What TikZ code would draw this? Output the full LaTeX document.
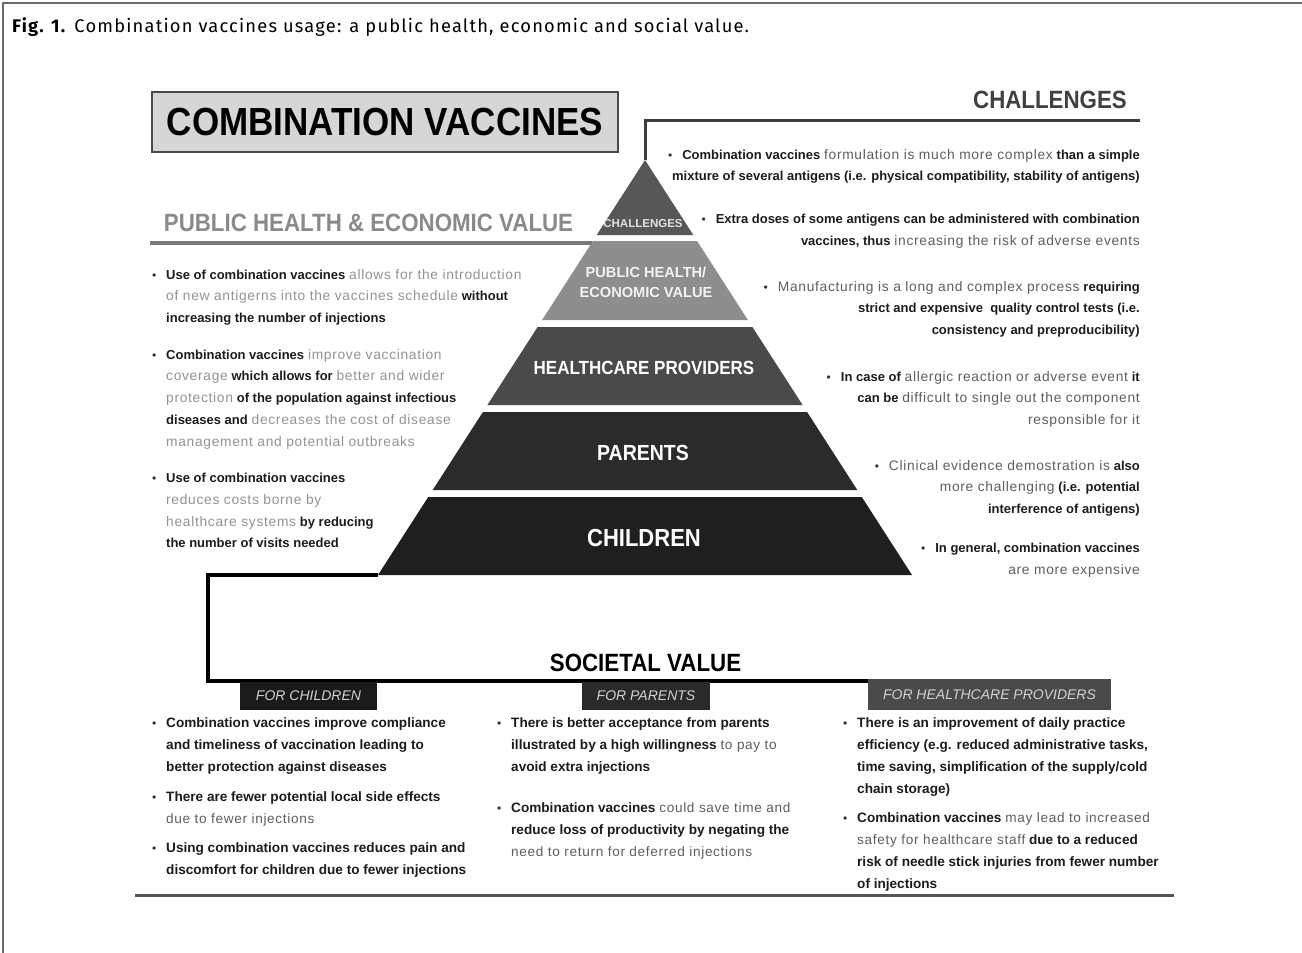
\documentclass[tikz,border=0pt]{standalone}
\usepackage{fontspec}
\setmainfont{Liberation Sans}
\newfontfamily\capfont[LetterSpace=6.5]{Fira Sans}
\newfontfamily\spfont[LetterSpace=5]{Liberation Sans}
\definecolor{blk}{HTML}{1C1C1C}
\definecolor{lgry}{HTML}{939393}
\definecolor{dgry}{HTML}{5E5E5E}
\definecolor{bulc}{HTML}{333333}
\definecolor{frame}{HTML}{6A6A6A}
\definecolor{tA}{HTML}{575757}
\definecolor{tB}{HTML}{8E8E8E}
\definecolor{tC}{HTML}{4A4A4A}
\definecolor{tD}{HTML}{2B2B2B}
\definecolor{tE}{HTML}{1F1F1F}
\definecolor{titlebg}{HTML}{D6D6D6}
\definecolor{titleline}{HTML}{4A4A4A}
\definecolor{tabtext}{HTML}{D2D2D2}
\definecolor{hchalc}{HTML}{404040}
\definecolor{hpubc}{HTML}{8A8A8A}
\definecolor{lchalc}{HTML}{E1E1E1}
\definecolor{lpubc}{HTML}{F2F2F2}
\definecolor{chline}{HTML}{3C3C3C}
\definecolor{publine}{HTML}{787878}
\definecolor{botline}{HTML}{555555}
\definecolor{tabC}{HTML}{1A1A1A}
\definecolor{tabP}{HTML}{2A2A2A}
\definecolor{tabH}{HTML}{4A4A4A}
\def\kbs{13}\def\kbl{21.7}
\newcommand{\txK}[1]{{\fontsize{\kbs}{\kbl}\selectfont\bfseries\color{blk}#1}}
\newcommand{\txG}[1]{{\spfont\mdseries\color{lgry}#1}}
\newcommand{\txD}[1]{{\spfont\mdseries\color{dgry}#1}}
\newcommand{\mybul}{{\color{bulc}\fontsize{12}{12}\selectfont\textbullet}}
\newcommand{\lb}{\llap{\mybul\hspace{10pt}}}
\newcommand{\rb}{\mybul\hspace{10pt}}
\newcommand{\tall}[1]{\scalebox{1}[1.12]{#1}}
\tikzset{
  body/.style={inner sep=0pt, font=\fontsize{13.8}{21.7}\selectfont, align=left, anchor=north west,
    execute at begin node={\def\kbs{13}\def\kbl{21.7}}},
  bodyr/.style={inner sep=0pt, font=\fontsize{13.8}{21.7}\selectfont, align=right, anchor=north east,
    execute at begin node={\def\kbs{13}\def\kbl{21.7}}},
  bodyb/.style={inner sep=0pt, font=\fontsize{13.6}{22}\selectfont, align=left, anchor=north west,
    execute at begin node={\def\kbs{13.6}\def\kbl{22}}},
  head/.style={inner sep=0pt, font=\fontsize{22.3}{24}\selectfont\bfseries},
  tierlab/.style={inner sep=0pt, align=center, font=\bfseries},
  tabbox/.style={inner sep=0pt, minimum height=28pt, font=\fontsize{14}{16}\selectfont\itshape, text=tabtext},
}
\begin{document}
\begin{tikzpicture}[x=1pt,y=-1pt]
\useasboundingbox (0,0) rectangle (1302,953);
\fill[white] (0,0) rectangle (1302,953);
% outer frame
\draw[frame, line width=2pt] (3,953) -- (3,3) -- (1302,3);
% caption
\node[anchor=base west, inner sep=0pt, font=\capfont\fontsize{18.3}{20}\selectfont] (cap) at (12,32)
  {\textbf{Fig. 1.} Combination vaccines usage: a public health, economic and social value.};

% title box
\node[draw=titleline, line width=2pt, fill=titlebg, minimum width=466pt, minimum height=60pt,
  inner sep=0pt, font=\fontsize{35}{38}\selectfont\bfseries] (title) at (385,122) {\tall{COMBINATION VACCINES}};

% headings
\node[head, text=hchalc] (hchal) at (1050,100) {\tall{CHALLENGES}};
\node[head, text=hpubc] (hpub) at (368.5,223) {\tall{PUBLIC HEALTH \& ECONOMIC VALUE}};
\node[head, text=black] (hsoc) at (645.5,663) {\tall{SOCIETAL VALUE}};

% pyramid
\coordinate (apex) at (645,160);
\coordinate (chR) at (1140,120);
\fill[tA] (apex) -- (693.3,235) -- (596.7,235) -- cycle;
\fill[tB] (592.9,241) -- (697.1,241) -- (747.9,320) -- (542.1,320) -- cycle;
\fill[tC] (537.6,327) -- (752.4,327) -- (802.6,405) -- (487.4,405) -- cycle;
\fill[tD] (482.9,412) -- (807.1,412) -- (857.3,490) -- (432.7,490) -- cycle;
\fill[tE] (428.2,497) -- (861.8,497) -- (912,575) -- (378,575) -- cycle;
\node[tierlab, font=\fontsize{11.5}{12}\selectfont\bfseries, text=lchalc] (lchal) at (643,224) {CHALLENGES};
\node[tierlab, font=\fontsize{14.6}{20}\selectfont\bfseries, text=lpubc] (lpub) at (646,282) {PUBLIC HEALTH/\\ECONOMIC VALUE};
\node[tierlab, font=\fontsize{17}{20}\selectfont\bfseries, text=white] (lhcp) at (644,368) {\tall{HEALTHCARE PROVIDERS}};
\node[tierlab, font=\fontsize{19.5}{22}\selectfont\bfseries, text=white] (lpar) at (643,453) {\tall{PARENTS}};
\node[tierlab, font=\fontsize{22}{24}\selectfont\bfseries, text=white] (lchi) at (644,538) {\tall{CHILDREN}};

% connectors
\draw[chline, line width=3pt] (apex) |- (chR);
\coordinate (pubL) at (150,243);
\coordinate (pubR) at (592,243);
\draw[publine, line width=4pt] (pubL) -- (pubR);
\coordinate (pbl) at (378,575);
\coordinate (bk1) at (208,575);
\coordinate (bk2) at (208,681);
\coordinate (bk3) at (868,681);
\draw[black, line width=4pt, line join=miter] (pbl) -- (bk1) -- (bk2) -- (bk3);
\coordinate (botL) at (135,895);
\coordinate (botR) at (1174,895);
\draw[botline, line width=3pt] (botL) -- (botR);

% tabs
\node[tabbox, fill=tabC, minimum width=137pt] (tabc) at (308.5,695.5) {FOR CHILDREN};
\node[tabbox, fill=tabP, minimum width=128pt] (tabp) at (646,695.5) {FOR PARENTS};
\node[tabbox, fill=tabH, minimum width=243pt, minimum height=31pt] (tabh) at (989.5,694.5) {FOR HEALTHCARE PROVIDERS};

% challenges bullets (right)
\node[bodyr] (r1) at (1140,149) {\rb\txK{Combination vaccines} \txD{formulation is much more complex} \txK{than a simple}\\
  \txK{mixture of several antigens (i.e. physical compatibility, stability of antigens)}};
\node[bodyr] (r2) at (1140,214) {\rb\txK{Extra doses of some antigens can be administered with combination}\\
  \txK{vaccines, thus} \txD{increasing the risk of adverse events}};
\node[bodyr] (r3) at (1140,281) {\rb\txD{Manufacturing is a long and complex process} \txK{requiring}\\
  \txK{strict and expensive\ \ quality control tests (i.e.}\\ \txK{consistency and preproducibility)}};
\node[bodyr] (r4) at (1140,371) {\rb\txK{In case of} \txD{allergic reaction or adverse event} \txK{it}\\
  \txK{can be} \txD{difficult to single out the component}\\ \txD{responsible for it}};
\node[bodyr] (r5) at (1140,460) {\rb\txD{Clinical evidence demostration is} \txK{also}\\
  \txD{more challenging} \txK{(i.e. potential}\\ \txK{interference of antigens)}};
\node[bodyr] (r6) at (1140,543) {\rb\txK{In general, combination vaccines}\\ \txD{are more expensive}};

% public health bullets (left)
\node[body] (l1) at (166,269) {\lb\txK{Use of combination vaccines} \txG{allows for the introduction}\\
  \txG{of new antigerns into the vaccines schedule} \txK{without}\\ \txK{increasing the number of injections}};
\node[body] (l2) at (166,349) {\lb\txK{Combination vaccines} \txG{improve vaccination}\\
  \txG{coverage} \txK{which allows for} \txG{better and wider}\\
  \txG{protection} \txK{of the population against infectious}\\
  \txK{diseases and} \txG{decreases the cost of disease}\\
  \txG{management and potential outbreaks}};
\node[body] (l3) at (166,473) {\lb\txK{Use of combination vaccines}\\ \txG{reduces costs borne by}\\
  \txG{healthcare systems} \txK{by reducing}\\ \txK{the number of visits needed}};

% societal bullets
\node[bodyb] (c1a) at (166,717) {\lb\txK{Combination vaccines improve compliance}\\
  \txK{and timeliness of vaccination leading to}\\ \txK{better protection against diseases}};
\node[bodyb] (c1b) at (166,791) {\lb\txK{There are fewer potential local side effects}\\ \txD{due to fewer injections}};
\node[bodyb] (c1c) at (166,842) {\lb\txK{Using combination vaccines reduces pain and}\\
  \txK{discomfort for children due to fewer injections}};
\node[bodyb] (c2a) at (511,717) {\lb\txK{There is better acceptance from parents}\\
  \txK{illustrated by a high willingness} \txD{to pay to}\\ \txK{avoid extra injections}};
\node[bodyb] (c2b) at (511,802) {\lb\txK{Combination vaccines} \txD{could save time and}\\
  \txK{reduce loss of productivity by negating the}\\ \txD{need to return for deferred injections}};
\node[bodyb] (c3a) at (857,717) {\lb\txK{There is an improvement of daily practice}\\
  \txK{efficiency (e.g. reduced administrative tasks,}\\
  \txK{time saving, simplification of the supply/cold}\\ \txK{chain storage)}};
\node[bodyb] (c3b) at (857,812) {\lb\txK{Combination vaccines} \txD{may lead to increased}\\
  \txD{safety for healthcare staff} \txK{due to a reduced}\\
  \txK{risk of needle stick injuries from fewer number}\\ \txK{of injections}};
\end{tikzpicture}
\end{document}
